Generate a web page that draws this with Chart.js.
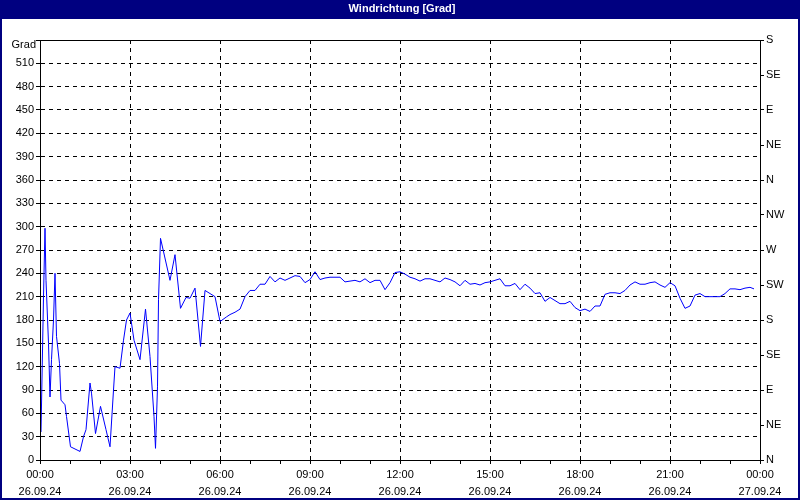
<!DOCTYPE html>
<html>
<head>
<meta charset="utf-8">
<script src="https://cdn.jsdelivr.net/npm/chart.js@4/dist/chart.umd.min.js"></script>
<style>
  html, body { margin: 0; padding: 0; background: #fff; }
  #wrap { width: 800px; height: 500px; position: relative; }
</style>
</head>
<body>
<div id="wrap"><canvas id="myChart" width="800" height="500"></canvas></div>
<script>
// data: minutes since 26.09.24 00:00 and wind direction in degrees
var minutes = [
  2, 7, 10, 12, 17, 20, 23, 27, 30, 33, 39, 42, 50, 53, 61, 80, 87, 92, 100, 103,
  111, 121, 132, 140, 147, 150, 160, 167, 173, 180, 188, 200, 211, 220, 228, 231, 235, 237, 241, 260,
  270, 281, 292, 300, 310, 321, 330, 350, 360, 373, 380, 390, 400, 410, 420, 430, 440, 450, 460, 470,
  480, 490, 500, 510, 520, 530, 540, 550, 560, 570, 580, 590, 600, 610, 620, 630, 640, 650, 660, 670,
  680, 690, 700, 710, 720, 730, 740, 750, 760, 770, 780, 790, 800, 810, 820, 830, 840, 850, 860, 870,
  880, 890, 900, 910, 920, 930, 940, 950, 960, 970, 980, 990, 1000, 1010, 1020, 1030, 1040, 1050, 1060, 1070,
  1080, 1090, 1100, 1110, 1120, 1130, 1140, 1150, 1160, 1170, 1180, 1190, 1200, 1210, 1220, 1230, 1240, 1250, 1260, 1270,
  1280, 1290, 1300, 1310, 1320, 1330, 1340, 1350, 1360, 1370, 1380, 1390, 1400, 1410, 1420, 1428
];
var direction = [
  36, 210, 298, 231, 150, 81, 129, 180, 240, 159, 124, 77, 71, 56, 17, 11, 30, 39, 99, 86,
  34, 69, 39, 17, 90, 120, 118, 154, 180, 189, 154, 129, 194, 133, 56, 15, 94, 206, 285, 231,
  264, 195, 209, 208, 221, 146, 218, 210, 178, 184, 187, 190, 194, 210, 218, 218, 226, 226, 236, 229,
  234, 231, 234, 237, 236, 228, 232, 242, 232, 234, 235, 235, 235, 229, 230, 231, 229, 233, 228, 231,
  231, 219, 228, 241, 242, 239, 235, 233, 230, 233, 233, 231, 229, 234, 232, 229, 224, 231, 226, 227,
  225, 228, 229, 231, 233, 224, 224, 227, 219, 226, 221, 214, 215, 204, 209, 205, 201, 201, 204, 196,
  192, 194, 191, 198, 198, 213, 215, 215, 214, 218, 225, 229, 226, 226, 228, 229, 225, 222, 228, 224,
  208, 195, 198, 212, 214, 210, 210, 210, 210, 214, 220, 220, 219, 221, 222, 220
];

// tick labels
var timeLabels = ["00:00", "03:00", "06:00", "09:00", "12:00", "15:00", "18:00", "21:00", "00:00"];
var dateLabels = ["26.09.24", "26.09.24", "26.09.24", "26.09.24", "26.09.24", "26.09.24", "26.09.24", "26.09.24", "27.09.24"];
var compassLabels = ["N", "NE", "E", "SE", "S", "SW", "W", "NW", "N", "NE", "E", "SE", "S"];

var navy = "#000080";
var tickFont = { family: "Liberation Sans, Arial, sans-serif", size: 11 };

// plugin: frame, title bar, "Grad" unit label
var decor = {
  id: "decor",
  beforeDraw: function(chart) {
    var c = chart.ctx;
    c.save();
    c.fillStyle = "#fff";
    c.fillRect(0, 0, chart.width, chart.height);
    c.restore();
  },
  afterDraw: function(chart) {
    var c = chart.ctx;
    var a = chart.chartArea;
    c.save();
    // plot frame
    c.strokeStyle = "#000";
    c.lineWidth = 1;
    c.setLineDash([]);
    c.strokeRect(a.left + 0.5, a.top + 0.5, a.right - a.left, a.bottom - a.top);
    // title bar
    c.fillStyle = navy;
    c.fillRect(0, 0, chart.width, 19);
    c.fillStyle = "#fff";
    c.font = "bold 11px Liberation Sans, Arial, sans-serif";
    c.textAlign = "center";
    c.textBaseline = "middle";
    c.fillText("Windrichtung [Grad]", 402, 9);
    // outer border
    c.strokeStyle = navy;
    c.lineWidth = 2;
    c.strokeRect(1, 1, chart.width - 2, chart.height - 2);
    // unit label
    c.fillStyle = "#000";
    c.font = "11px Liberation Sans, Arial, sans-serif";
    c.textAlign = "right";
    c.fillText("Grad", 36, 45);
    c.restore();
  }
};

var points = [];
for (var i = 0; i < minutes.length; i++) {
  points.push({ x: minutes[i], y: direction[i] });
}

var ctx = document.getElementById("myChart").getContext("2d");
var windChart = new Chart(ctx, {
  type: "line",
  data: {
    datasets: [{
      data: points,
      borderColor: "#0000ff",
      borderWidth: 1,
      pointRadius: 0,
      tension: 0,
      fill: false,
      yAxisID: "y"
    }]
  },
  options: {
    responsive: false,
    animation: false,
    layout: { padding: { top: 40, left: 0, right: 0, bottom: 0 } },
    plugins: {
      legend: { display: false },
      tooltip: { enabled: false }
    },
    scales: {
      x: {
        type: "linear",
        min: 0,
        max: 1440,
        afterFit: function(scale) { scale.height = 40; },
        ticks: {
          stepSize: 60,
          autoSkip: false,
          maxRotation: 0,
          padding: 2,
          color: "#000",
          font: { family: tickFont.family, size: 11, lineHeight: 1.55 },
          callback: function(value) {
            if (value % 180 !== 0) return "";
            var k = value / 180;
            return [timeLabels[k], dateLabels[k]];
          }
        },
        grid: {
          color: function(c) {
            return c.tick && c.tick.value % 180 === 0 ? "#000" : "rgba(0,0,0,0)";
          },
          tickColor: "#000",
          tickLength: 4,
          lineWidth: 1
        },
        border: { display: true, color: "#000", dash: [4, 4] }
      },
      y: {
        position: "left",
        min: 0,
        max: 540,
        afterFit: function(scale) { scale.width = 40; },
        ticks: {
          stepSize: 30,
          padding: 2,
          color: "#000",
          font: tickFont,
          callback: function(value) { return value === 540 ? "" : value; }
        },
        grid: {
          color: "#000",
          tickColor: "#000",
          tickLength: 4,
          lineWidth: 1
        },
        border: { display: true, color: "#000", dash: [4, 4] }
      },
      y1: {
        position: "right",
        min: 0,
        max: 540,
        afterFit: function(scale) { scale.width = 40; },
        ticks: {
          stepSize: 45,
          padding: 2,
          color: "#000",
          font: tickFont,
          callback: function(value) { return compassLabels[Math.round(value / 45)]; }
        },
        grid: {
          drawOnChartArea: false,
          tickColor: "#000",
          tickLength: 4
        },
        border: { display: true, color: "#000" }
      }
    }
  },
  plugins: [decor]
});
</script>
</body>
</html>
